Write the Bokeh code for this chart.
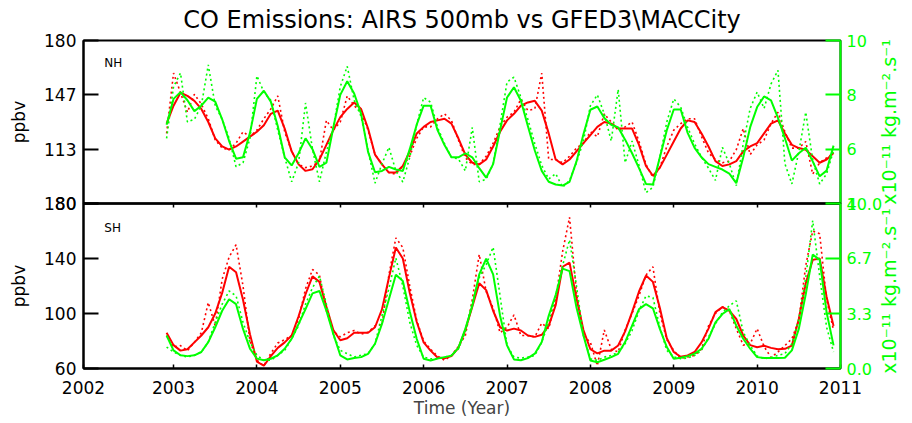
import math
from bokeh.plotting import figure
from bokeh.models import Range1d, LinearAxis, FixedTicker, Label
from bokeh.layouts import column
from bokeh.embed import file_html
from bokeh.resources import INLINE

RED = "#ff0000"
GREEN = "#00ff00"
FONT = "DejaVu Sans"

# ---------------- data (monthly, Dec 2002 .. Dec 2010) ----------------
first_year, first_month, n_months = 2002, 12, 97
time = [first_year + (first_month - 1 + i) / 12.0 for i in range(n_months)]

nh_airs_monthly = [123, 160, 148, 136, 147, 141, 132, 119, 114, 113, 117, 124, 121, 125, 132, 138,
                   146, 124, 112, 104, 102, 103, 106, 131, 125, 130, 146, 140, 136, 125, 110, 104,
                   99, 98, 103, 109, 120, 127, 127, 132, 135, 131, 119, 108, 104, 104, 109, 117,
                   127, 133, 136, 144, 137, 138, 160, 107, 107, 105, 109, 114, 117, 124, 121, 135,
                   130, 125, 127, 130, 118, 104, 96, 102, 115, 125, 129, 132, 132, 121, 111, 107,
                   105, 106, 113, 126, 110, 116, 119, 129, 136, 124, 114, 114, 118, 98, 105, 108, 111]
nh_airs_smooth = [129, 140, 148, 146, 143, 138, 130, 120, 115, 113, 115, 118, 121, 124, 128, 135,
                  137, 126, 112, 104, 100, 101, 107, 116, 125, 133, 138, 142, 138, 126, 110, 104,
                  99, 99, 103, 112, 123, 127, 130, 131, 132, 129, 120, 110, 105, 104, 107, 115,
                  124, 131, 135, 140, 142, 143, 137, 123, 107, 104, 107, 112, 117, 122, 127, 130,
                  129, 126, 126, 126, 116, 103, 97, 102, 110, 118, 126, 131, 130, 123, 115, 106,
                  103, 104, 106, 112, 115, 117, 123, 129, 131, 123, 116, 114, 113, 109, 105, 107, 111]
nh_emis_monthly = [6.4, 8.3, 8.8, 7.0, 7.1, 7.6, 9.1, 7.6, 7.1, 6.4, 5.35, 5.5, 6.4, 8.7, 8.1, 7.8,
                   6.7, 5.7, 4.8, 5.5, 7.7, 6.0, 4.8, 5.9, 6.8, 8.3, 9.05, 7.8, 7.2, 5.95, 4.75, 5.46,
                   6.07, 5.2, 4.79, 5.7, 6.9, 7.9, 7.73, 6.8, 6.2, 5.7, 5.64, 5.2, 6.8, 4.8, 4.9, 5.45,
                   6.9, 8.47, 8.65, 7.9, 7.1, 6.2, 5.4, 4.9, 5.1, 4.6, 4.85, 5.5, 6.3, 7.6, 8.0, 7.3,
                   6.3, 8.2, 5.5, 6.3, 5.4, 4.4, 4.6, 5.71, 7.0, 7.85, 7.55, 6.8, 6.2, 5.7, 5.3, 4.85,
                   6.07, 5.46, 4.66, 6.2, 7.5, 8.1, 7.5, 8.4, 8.9, 5.46, 4.72, 5.9, 7.36, 5.6, 4.72, 5.09, 5.95]
nh_emis_smooth = [6.9, 7.85, 8.1, 7.8, 7.4, 7.6, 7.9, 7.75, 7.1, 6.3, 5.65, 5.7, 6.6, 7.85, 8.15, 7.75,
                  6.85, 5.7, 5.4, 5.85, 6.4, 6.0, 5.35, 5.5, 6.8, 8.0, 8.5, 8.05, 7.3, 5.9, 5.15, 5.2,
                  5.35, 5.25, 5.2, 6.0, 6.9, 7.6, 7.6, 6.7, 6.15, 5.7, 5.7, 5.85, 5.7, 5.3, 4.95, 5.45,
                  6.7, 7.9, 8.28, 7.78, 6.85, 5.95, 5.2, 4.8, 4.7, 4.66, 4.8, 5.55, 6.55, 7.45, 7.57, 7.15,
                  6.9, 6.8, 6.35, 5.85, 5.3, 4.72, 4.7, 5.7, 6.7, 7.46, 7.46, 6.6, 6.05, 5.7, 5.45, 5.35,
                  5.25, 5.1, 4.75, 5.7, 6.81, 7.55, 7.94, 7.8, 7.15, 6.4, 5.58, 5.85, 6.05, 5.55, 5.0, 5.21, 6.13]

sh_airs_monthly = [84, 75.5, 76.7, 73, 79, 86, 108, 91, 125, 141, 150, 120, 80, 66, 62, 71,
                   78.5, 81, 84, 96, 118, 132, 128, 102, 87, 83, 86, 87.6, 85, 86.4, 91, 92,
                   128, 155, 148, 120, 95, 80, 74, 69, 66, 69.5, 76, 84, 110, 143, 116, 104,
                   86, 90, 99, 84, 84, 83, 93, 89, 110, 145, 170, 115, 84, 79, 62, 88,
                   74, 72, 88, 100, 113, 128, 134, 100, 81, 73, 67.5, 68.3, 69.5, 74, 91, 100,
                   105, 102, 89, 77, 78, 89, 76, 68, 72, 76.7, 81.6, 95, 135, 160, 158, 110, 88]
sh_airs_smooth = [86, 77, 73, 74, 79, 84, 90, 100, 115, 134, 130, 110, 85, 65, 62, 69,
                  75, 79, 84, 98, 114, 127, 123, 105, 88, 80.5, 82, 86, 86, 86, 90, 103,
                  126, 148, 140, 115, 94, 79, 73, 68, 67.5, 69, 75, 88, 105, 122, 117, 102,
                  90, 87.6, 89, 87.6, 84, 83, 84.5, 91, 106, 134, 137, 111, 88, 74, 71, 73,
                  73, 76.7, 87, 101, 116, 127.6, 123, 104, 82, 72, 68.5, 69.5, 72, 79, 89, 101,
                  104.6, 102, 96, 84, 77, 75.5, 76.5, 75, 74, 74.3, 76.7, 96, 122, 139, 140, 112, 91]
sh_emis_monthly = [1.3, 1.0, 0.8, 0.7, 0.8, 1.0, 1.6, 2.8, 3.9, 4.7, 4.4, 2.8, 1.6, 0.8, 0.5, 0.5,
                   0.8, 1.1, 1.8, 2.6, 3.9, 4.9, 5.6, 3.9, 2.0, 1.1, 0.9, 0.7, 0.8, 0.9, 1.5, 3.2,
                   4.85, 6.7, 5.0, 2.8, 1.4, 0.69, 0.59, 0.59, 0.69, 0.79, 1.19, 2.2, 4.0, 5.5, 6.3, 7.35,
                   4.4, 1.4, 0.69, 0.63, 0.69, 0.79, 1.6, 2.8, 4.4, 6.24, 7.8, 5.0, 2.0, 0.59, 0.49, 0.69,
                   0.79, 0.99, 1.5, 2.3, 3.5, 4.4, 4.3, 2.5, 1.1, 0.7, 0.6, 0.63, 0.79, 1.1, 1.9, 2.7,
                   3.4, 3.8, 4.1, 2.2, 1.4, 0.75, 0.6, 0.66, 0.8, 0.9, 1.5, 3.0, 5.5, 8.97, 5.6, 2.5, 1.0]
sh_emis_smooth = [2.0, 1.1, 0.8, 0.75, 0.8, 1.0, 1.6, 2.5, 3.5, 4.2, 3.9, 2.4, 1.2, 0.6, 0.5, 0.59,
                  0.8, 1.2, 1.8, 2.7, 3.6, 4.55, 4.7, 3.5, 2.1, 0.8, 0.55, 0.63, 0.69, 0.89, 1.5, 2.7,
                  4.2, 5.68, 5.3, 3.45, 1.8, 0.59, 0.49, 0.6, 0.69, 0.78, 1.25, 2.4, 3.8, 5.7, 6.65, 5.7,
                  3.2, 1.4, 0.55, 0.5, 0.63, 0.9, 1.6, 3.2, 4.45, 6.05, 5.9, 3.7, 2.0, 0.49, 0.38, 0.53,
                  0.69, 0.89, 1.6, 2.6, 3.6, 3.9, 3.65, 2.4, 1.3, 0.59, 0.65, 0.75, 0.9, 1.2, 1.8, 2.8,
                  3.3, 3.6, 2.6, 1.8, 1.2, 0.69, 0.63, 0.63, 0.63, 0.65, 1.1, 2.4, 4.5, 6.9, 6.6, 3.4, 1.4]

# axis ticks / labels
x_ticks = [2001.92, 2003, 2004, 2005, 2006, 2007, 2008, 2009, 2010, 2011]
x_tick_labels = ["2002", "2003", "2004", "2005", "2006", "2007", "2008", "2009", "2010", "2011"]
nh_left_ticks = [80, 113.333, 146.667, 180]
nh_left_labels = ["80", "113", "147", "180"]
nh_right_ticks = [4, 6, 8, 10]
nh_right_labels = ["4", "6", "8", "10"]
sh_left_ticks = [60, 100, 140, 180]
sh_left_labels = ["60", "100", "140", "180"]
sh_right_ticks = [0, 3.333, 6.667, 10]
sh_right_labels = ["0.0", "3.3", "6.7", "10.0"]

TITLE = "CO Emissions: AIRS 500mb vs GFED3\\MACCity"
RIGHT_LABEL = "x10\u207b\u00b9\u00b9 kg.m\u207b\u00b2.s\u207b\u00b9"

W = 910
BL, BR = 83, 70
RIGHT_LABEL_X = 2011.58   # position (in years) of the rotated right-hand unit label


def style_left(ax, ticks, labels):
    ax.ticker = FixedTicker(ticks=ticks)
    ax.major_label_overrides = dict(zip(ticks, labels))
    ax.axis_line_color = "black"
    ax.axis_line_width = 2
    ax.major_tick_line_color = "black"
    ax.major_tick_line_width = 2
    ax.major_tick_in = 15
    ax.major_tick_out = 0
    ax.minor_tick_line_color = None
    ax.major_label_text_font = FONT
    ax.major_label_text_font_size = "17px"
    ax.major_label_text_color = "black"
    ax.major_label_standoff = 7
    ax.axis_label = "ppbv"
    ax.axis_label_text_font = FONT
    ax.axis_label_text_font_size = "17px"
    ax.axis_label_text_font_style = "normal"
    ax.axis_label_text_color = "black"
    ax.axis_label_standoff = 12


def add_right(p, rng_name, ticks, labels, label_y):
    ax = LinearAxis(y_range_name=rng_name)
    ax.ticker = FixedTicker(ticks=ticks)
    ax.major_label_overrides = dict(zip(ticks, labels))
    ax.axis_line_color = GREEN
    ax.axis_line_width = 2
    ax.major_tick_line_color = GREEN
    ax.major_tick_line_width = 2
    ax.major_tick_in = 15
    ax.major_tick_out = 0
    ax.minor_tick_line_color = None
    ax.major_label_text_font = FONT
    ax.major_label_text_font_size = "16px"
    ax.major_label_text_color = GREEN
    ax.major_label_standoff = 6
    p.add_layout(ax, "right")
    p.add_layout(Label(x=RIGHT_LABEL_X, y=label_y, y_range_name=rng_name, text=RIGHT_LABEL,
                       angle=math.pi / 2, text_align="center", text_baseline="middle",
                       text_font=FONT, text_font_size="19px", text_color=GREEN), "right")


def draw_series(p, airs_m, airs_s, emis_m, emis_s, rng_name):
    p.line(time, airs_m, line_color=RED, line_width=1.6, line_dash="2 3")
    p.line(time, airs_s, line_color=RED, line_width=2)
    p.line(time, emis_m, line_color=GREEN, line_width=1.6, line_dash="2 3", y_range_name=rng_name)
    p.line(time, emis_s, line_color=GREEN, line_width=2, y_range_name=rng_name)


# ---------------- top panel (NH) ----------------
p1 = figure(width=W, height=213, x_range=Range1d(x_ticks[0], x_ticks[-1]),
            y_range=Range1d(nh_left_ticks[0], nh_left_ticks[-1]),
            x_axis_location=None, output_backend="svg", toolbar_location=None,
            min_border_left=BL, min_border_right=BR, min_border_top=40, min_border_bottom=10)
p1.extra_y_ranges = {"emis": Range1d(nh_right_ticks[0], nh_right_ticks[-1])}
p1.grid.visible = False
p1.outline_line_color = "black"
p1.outline_line_width = 2
p1.title.text = TITLE
p1.title.align = "center"
p1.title.vertical_align = "top"
p1.title.text_font = FONT
p1.title.text_font_size = "24px"
p1.title.text_font_style = "normal"
p1.title.text_color = "black"
p1.title.standoff = 10
style_left(p1.yaxis[0], nh_left_ticks, nh_left_labels)
add_right(p1, "emis", nh_right_ticks, nh_right_labels, 7.0)
draw_series(p1, nh_airs_monthly, nh_airs_smooth, nh_emis_monthly, nh_emis_smooth, "emis")
p1.add_layout(Label(x=2002.17, y=166.5, text="NH", text_font=FONT, text_font_size="12px",
                    text_baseline="middle", text_color="black"))
p1.margin = (0, 0, -20, 0)

# ---------------- bottom panel (SH) ----------------
p2 = figure(width=W, height=229, x_range=p1.x_range,
            y_range=Range1d(sh_left_ticks[0], sh_left_ticks[-1]),
            output_backend="svg", toolbar_location=None,
            min_border_left=BL, min_border_right=BR, min_border_top=10, min_border_bottom=54)
p2.extra_y_ranges = {"emis": Range1d(sh_right_ticks[0], sh_right_ticks[-1])}
p2.grid.visible = False
p2.outline_line_color = "black"
p2.outline_line_width = 2
p2.background_fill_color = None
p2.border_fill_color = None
style_left(p2.yaxis[0], sh_left_ticks, sh_left_labels)
add_right(p2, "emis", sh_right_ticks, sh_right_labels, 4.7)

xa = p2.xaxis[0]
xa.ticker = FixedTicker(ticks=x_ticks)
xa.major_label_overrides = dict(zip(x_ticks, x_tick_labels))
xa.axis_line_color = "black"
xa.axis_line_width = 2
xa.major_tick_line_color = "black"
xa.major_tick_line_width = 1.5
xa.major_tick_in = 4
xa.major_tick_out = 0
xa.minor_tick_line_color = None
xa.major_label_text_font = FONT
xa.major_label_text_font_size = "17px"
xa.major_label_text_color = "black"
xa.major_label_standoff = 12
xa.axis_label = "Time (Year)"
xa.axis_label_text_font = FONT
xa.axis_label_text_font_size = "17px"
xa.axis_label_text_font_style = "normal"
xa.axis_label_standoff = 1

top_ax = LinearAxis(ticker=FixedTicker(ticks=x_ticks[1:-1]))
top_ax.axis_line_color = "black"
top_ax.axis_line_width = 2
top_ax.major_tick_line_color = "black"
top_ax.major_tick_line_width = 1.5
top_ax.major_tick_in = 4
top_ax.major_tick_out = 0
top_ax.minor_tick_line_color = None
top_ax.major_label_text_font_size = "1px"
top_ax.major_label_text_color = None
top_ax.major_label_standoff = 0
p2.add_layout(top_ax, "above")

draw_series(p2, sh_airs_monthly, sh_airs_smooth, sh_emis_monthly, sh_emis_smooth, "emis")
p2.add_layout(Label(x=2002.17, y=162.5, text="SH", text_font=FONT, text_font_size="12px",
                    text_baseline="middle", text_color="black"))

layout = column(p1, p2, spacing=0)
open("out.html", "w").write(file_html(layout, INLINE))
